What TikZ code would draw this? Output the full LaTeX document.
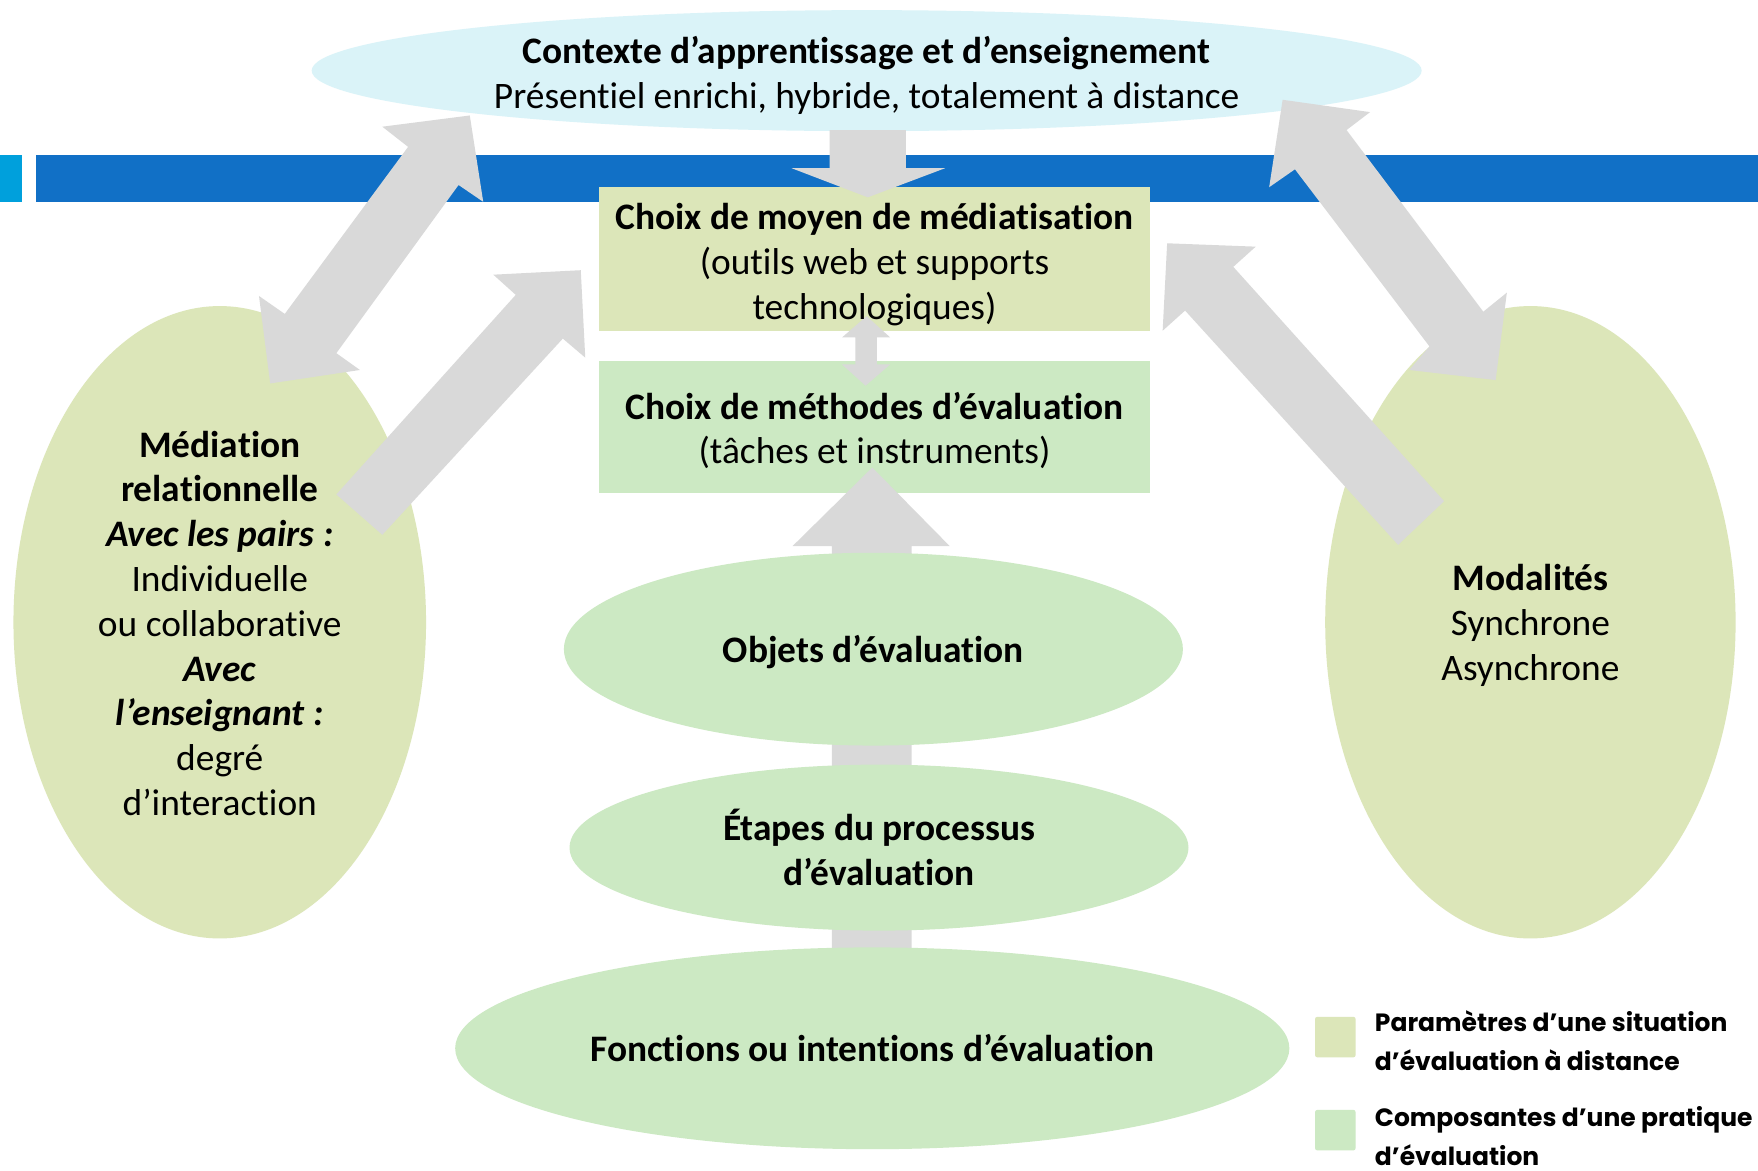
\documentclass[tikz,border=0pt]{standalone}
\usepackage{fontspec}
\setmainfont[Ligatures=NoCommon]{Carlito}
\newfontfamily\legendfont{Poppins}
\usetikzlibrary{shapes.geometric}
\definecolor{cyanell}{HTML}{DAF3F8}
\definecolor{olivefill}{HTML}{DCE6B9}
\definecolor{greenfill}{HTML}{CCE9C3}
\definecolor{arrowgray}{HTML}{D9D9D9}
\definecolor{barblue}{HTML}{1170C6}
\definecolor{barcyan}{HTML}{00A0DC}
\tikzset{
 ell/.style={ellipse, draw=none, inner sep=0pt},
 boxnode/.style={rectangle, draw=none, inner sep=0pt},
 txt/.style={align=center, font=\fontsize{18.7}{22.4}\selectfont, inner sep=0pt},
 btxt/.style={txt, font=\bfseries\fontsize{18.7}{22.4}\selectfont},
 blockarrow/.style={fill=arrowgray, draw=none},
 legsq/.style={rectangle, rounded corners=1pt, draw=none, inner sep=0pt, minimum width=20.2pt, minimum height=20.2pt},
 legtxt/.style={align=left, anchor=west, font=\legendfont\bfseries\fontsize{12.5}{19.6}\selectfont, inner sep=0pt},
}
\begin{document}
\begin{tikzpicture}[x=0.5606pt,y=-0.5606pt]
\useasboundingbox (0,0) rectangle (1568,1044);
\fill[white] (0,0) rectangle (1568,1044);
% bar
\fill[barcyan] (0,138) rectangle (20,180);
\fill[barblue] (32,138) rectangle (1568,180);
% shapes
\node[ell, fill=cyanell, minimum width=555pt, minimum height=60.5pt] (ctx) at (773,63) {};
\node[boxnode, fill=olivefill, minimum width=275.8pt, minimum height=71.8pt] (moyen) at (780,231) {};
\node[boxnode, fill=greenfill, minimum width=275.8pt, minimum height=66.2pt] (meth) at (780,381) {};
\node[ell, fill=olivefill, minimum width=206.3pt, minimum height=316.2pt] (med) at (196,555) {};
\node[ell, fill=olivefill, minimum width=205.2pt, minimum height=316.2pt] (moda) at (1365,555) {};
% block arrows
\fill[blockarrow] (419,103) -- (431,180) -- (409,165) -- (300,315) -- (321,330) -- (241,342) -- (231,264) -- (254,280) -- (364,131) -- (341,113) -- cycle;
\fill[blockarrow] (518,241) -- (522,319) -- (502,302) -- (341,477) -- (300,441) -- (460,263) -- (440,245) -- cycle;
\fill[blockarrow] (1144,89) -- (1222,100) -- (1201,116) -- (1323,278) -- (1344,261) -- (1334,339) -- (1257,330) -- (1275,309) -- (1155,151) -- (1132,167) -- cycle;
\fill[blockarrow] (1041,217) -- (1120,220) -- (1100,238) -- (1288,447) -- (1247,486) -- (1057,277) -- (1037,295) -- cycle;
\fill[blockarrow] (740,116) -- (808,116) -- (808,150) -- (843,150) -- (774,176) -- (706,150) -- (740,150) -- cycle;
\fill[blockarrow] (773,282) -- (794,301) -- (782,301) -- (782,325) -- (794,325) -- (772,344) -- (751,325) -- (763,325) -- (763,301) -- (751,301) -- cycle;
\fill[blockarrow] (778,417) -- (847,487) -- (813,487) -- (813,850) -- (742,850) -- (742,487) -- (707,487) -- cycle;
% central ellipses
\node[ell, fill=greenfill, minimum width=309.5pt, minimum height=96.4pt] (obj) at (779,579) {};
\node[ell, fill=greenfill, minimum width=309.5pt, minimum height=83pt] (etap) at (784,756) {};
\node[ell, fill=greenfill, minimum width=417.1pt, minimum height=100.9pt] (fonc) at (778,935) {};
% texts
\node[txt] (ctxt) at (773,67) {\textbf{Contexte d’apprentissage et d’enseignement}\\Présentiel enrichi, hybride, totalement à distance};
\node[txt] (moyent) at (780,236) {\textbf{Choix de moyen de médiatisation}\\(outils web et supports\\technologiques)};
\node[txt] (metht) at (780,384) {\textbf{Choix de méthodes d’évaluation}\\(tâches et instruments)};
\node[txt] (medt) at (196,556) {\textbf{Médiation}\\\textbf{relationnelle}\\\textbf{\textit{Avec les pairs :}}\\Individuelle\\ou collaborative\\\textbf{\textit{Avec}}\\\textbf{\textit{l’enseignant :}}\\degré\\d’interaction};
\node[txt] (modat) at (1365,558) {\textbf{Modalités}\\Synchrone\\Asynchrone};
\node[btxt] (objt) at (779,582) {Objets d’évaluation};
\node[btxt] (etapt) at (784,756) {Étapes du processus\\d’évaluation};
\node[btxt] (fonct) at (778,935) {Fonctions ou intentions d’évaluation};
% legend
\node[legsq, fill=olivefill] (leg1) at (1191,925) {};
\node[legsq, fill=greenfill] (leg2) at (1191,1008) {};
\node[legtxt] (leg1t) at (1226,928) {Paramètres d’une situation\\d’évaluation à distance};
\node[legtxt] (leg2t) at (1226,1013) {Composantes d’une pratique\\d’évaluation};
\end{tikzpicture}
\end{document}
